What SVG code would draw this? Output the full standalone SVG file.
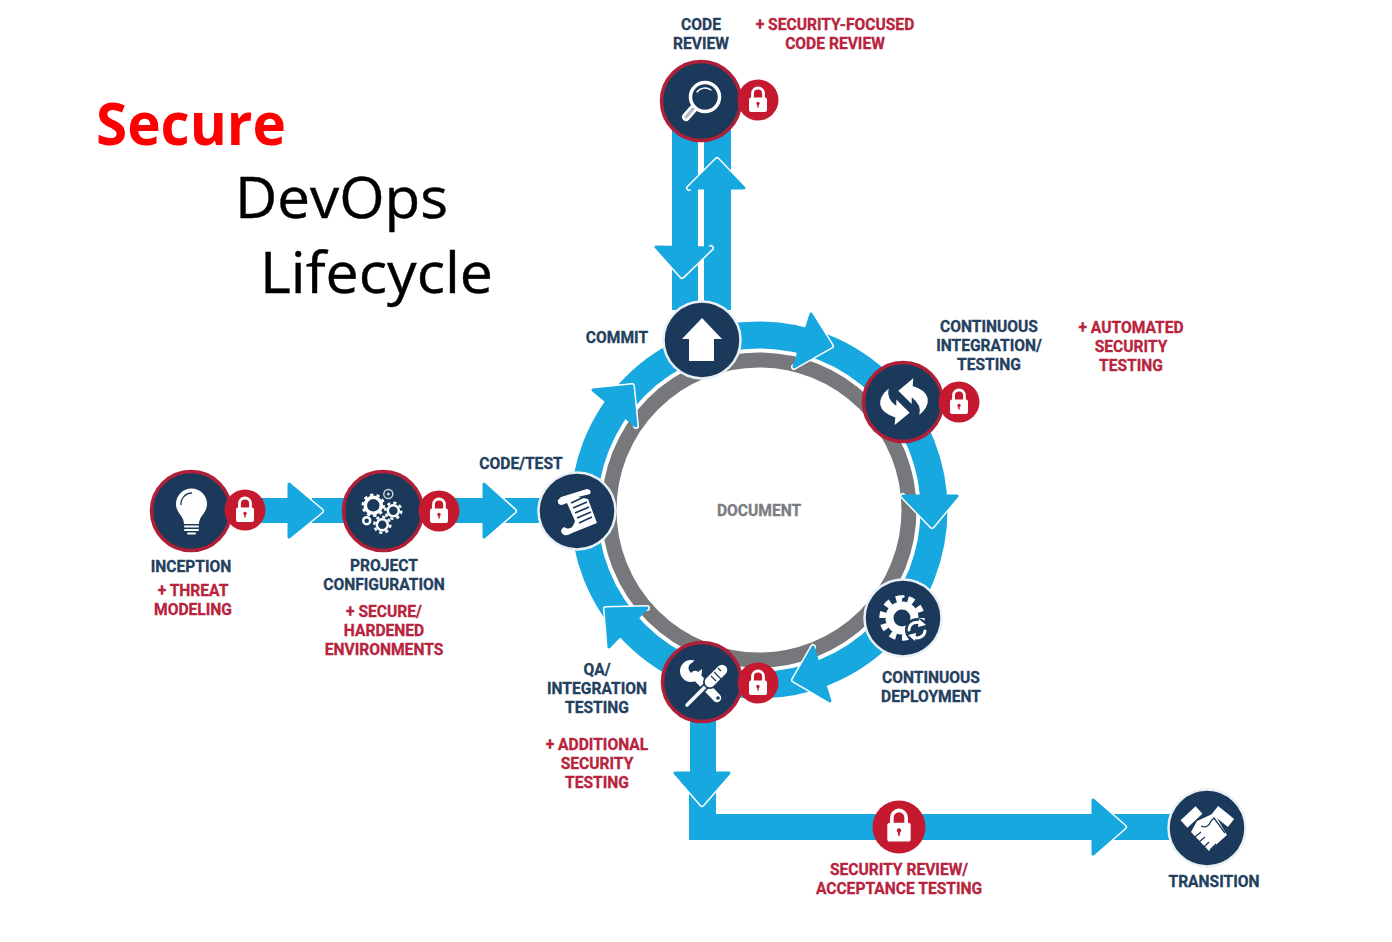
<svg xmlns="http://www.w3.org/2000/svg" xmlns:xlink="http://www.w3.org/1999/xlink" width="1392" height="942" viewBox="0 0 1392 942">
<style>
.lbl{font-family:Roboto,"Liberation Sans",Arial,sans-serif;font-weight:700;font-size:15.6px;text-anchor:middle;stroke-width:.3}
.n{fill:#23405f;stroke:#23405f}.r{fill:#b8233d;stroke:#b8233d}.g{fill:#7b7c7f;stroke:#7b7c7f}
.flow{fill:#16a8df}
.edge{fill:none;stroke:#fff;stroke-width:6;stroke-linejoin:round;stroke-linecap:round}
.head{fill:#16a8df;stroke:#16a8df;stroke-width:3;stroke-linejoin:round}
.disc{fill:#1b3a5b;stroke:#e9f1f6;stroke-width:2.5}
.disc.sec{stroke:#b01f38;stroke-width:3.5}
.lockbg{fill:#c5192f}
.w{fill:#fff}.wl{fill:none;stroke:#fff;stroke-linecap:round}
.nl{fill:none;stroke:#1b3a5b}
.title{font-family:"Open Sans","Noto Sans",sans-serif}
</style>
<defs>
<g id="padlock">
<path d="M-5.5-2V-6.500a5.500 5.500 0 0 1 11 0V-2" fill="none" stroke="#fff" stroke-width="2.800"/>
<rect x="-9" y="-2.500" width="18" height="14.500" rx="2" fill="#fff"/>
<circle cx="0" cy="3.500" r="1.700" fill="#c5192f"/><rect x="-.7" y="3.500" width="1.400" height="4" fill="#c5192f"/>
</g>
</defs>
<rect width="1392" height="942" fill="#fff"/>

<g id="title" class="title">
<text x="96" y="145" font-size="59" font-weight="700" fill="#fe0000" textLength="190" lengthAdjust="spacingAndGlyphs">Secure</text>
<text x="235" y="218" font-size="57" fill="#000" textLength="213" lengthAdjust="spacingAndGlyphs" stroke="#000" stroke-width=".4">DevOps</text>
<text x="260" y="293" font-size="57" fill="#000" textLength="233" lengthAdjust="spacingAndGlyphs" stroke="#000" stroke-width=".4">Lifecycle</text>
</g>

<g id="connectors">
<circle cx="759" cy="510" r="150" fill="none" stroke="#77787b" stroke-width="15"/>
<circle cx="759" cy="510" r="175" fill="none" stroke="#16a8df" stroke-width="27"/>
<rect class="flow" x="672" y="130" width="26" height="180"/>
<rect class="flow" x="704" y="130" width="27" height="180"/>
<path class="edge" d="M689 188L717 160L744 188"/><polygon class="head" points="689,188 717,160 744,188"/>
<path class="edge" d="M656 247L682 276L711 248"/><polygon class="head" points="656,247 682,276 711,248"/>
<rect class="flow" x="250" y="498" width="45" height="25"/>
<rect class="flow" x="312" y="498" width="35" height="25"/>
<path class="edge" d="M289 484L321 511L289 537"/><polygon class="head" points="289,484 321,511 289,537"/>
<rect class="flow" x="445" y="498" width="45" height="25"/>
<rect class="flow" x="505" y="498" width="38" height="25"/>
<path class="edge" d="M484 484L514 511L484 537"/><polygon class="head" points="484,484 514,511 484,537"/>
<path class="edge" d="M811 314L831 346L794 367"/><polygon class="head" points="811,314 831,346 794,367"/>
<path class="edge" d="M903 496L932 526L957 496"/><polygon class="head" points="903,496 932,526 957,496"/>
<path class="edge" d="M813 647L794 680L830 701"/><polygon class="head" points="813,647 794,680 830,701"/>
<path class="edge" d="M647 608L606 609L609 647"/><polygon class="head" points="647,608 606,609 609,647"/>
<path class="edge" d="M593 390L632 386L636 426"/><polygon class="head" points="593,390 632,386 636,426"/>
<rect class="flow" x="690" y="715" width="26" height="60"/>
<polygon class="flow" points="689,790 716,790 716,814 1095,814 1095,840 689,840"/>
<path class="edge" d="M675 773L702 804L729 773"/><polygon class="head" points="675,773 702,804 729,773"/>
<rect class="flow" x="1110" y="814" width="65" height="26"/>
<path class="edge" d="M1093 800L1124 827L1093 854"/><polygon class="head" points="1093,800 1124,827 1093,854"/>
</g>

<g id="node-code-review">
<circle class="disc sec" cx="701" cy="101" r="39.5"/>
<circle class="wl" cx="705" cy="97" r="14.500" stroke-width="3.500"/>
<path class="wl" d="M697 92a10 10 0 0 1 14-2" stroke-width="1.300"/>
<path class="wl" d="M686 117L693 109" stroke-width="8"/>
<path d="M686 117L693 109" stroke="#1b3a5b" stroke-width="3" stroke-linecap="round" opacity=".35"/>
<circle class="lockbg" cx="758" cy="100" r="20.5"/><use xlink:href="#padlock" href="#padlock" x="758" y="100"/>
</g>

<g id="node-commit">
<circle class="disc" cx="702" cy="340" r="38.5"/>
<polygon class="w" points="702,318 722,339 714,339 714,361 689,361 689,339 682,339"/>
</g>

<g id="node-ci">
<circle class="disc sec" cx="903" cy="402" r="39.5"/>
<path class="w" d="M898.3 390.7L913.3 378.3L912.7 386Q926 390 927.7 398.3Q929 407 919.3 415Q922 405 911.7 397.3L911.7 404Z"/>
<path class="w" transform="rotate(180 904 401.7)" d="M898.3 390.7L913.3 378.3L912.7 386Q926 390 927.7 398.3Q929 407 919.3 415Q922 405 911.7 397.3L911.7 404Z"/>
<circle class="lockbg" cx="959" cy="402" r="20.5"/><use xlink:href="#padlock" href="#padlock" x="959" y="402"/>
</g>

<g id="node-cd">
<circle class="disc" cx="903" cy="618" r="38.5"/>
<circle cx="902" cy="618" r="19.5" fill="none" stroke="#fff" stroke-width="6.500" pathLength="20" stroke-dasharray="1 1"/>
<circle cx="902" cy="618" r="12.500" fill="none" stroke="#fff" stroke-width="8"/>
<circle cx="917" cy="630" r="12" fill="#1b3a5b"/>
<path class="wl" d="M909 630a8 8 0 0 1 13-6M925 631a8 8 0 0 1-13 5" stroke-width="3"/>
<polygon class="w" points="919,619 926,625 918,627"/><polygon class="w" points="915,641 908,635 916,633"/>
</g>

<g id="node-qa">
<circle class="disc sec" cx="702" cy="682" r="39.5"/>
<circle class="w" cx="691" cy="671" r="11"/>
<circle cx="694" cy="668" r="5.500" fill="#1b3a5b"/>
<polygon points="691,664 698,657 706,666 698,672" fill="#1b3a5b"/>
<path class="wl" d="M695 675L717 698" stroke-width="8.500"/>
<circle cx="718" cy="698" r="1.800" fill="#1b3a5b"/>
<path d="M709 683L688 704" stroke="#1b3a5b" stroke-width="7"/>
<path class="wl" d="M708 684L687 705" stroke-width="3.500"/>
<path d="M722 670L710 682" stroke="#1b3a5b" stroke-width="14" stroke-linecap="round"/>
<path class="wl" d="M722 670L710 682" stroke-width="10.500"/>
<path class="nl" d="M714 672l7 7M718 668l3 3M711 676l5 5" stroke-width="1.200"/>
<circle class="lockbg" cx="758" cy="683" r="20.5"/><use xlink:href="#padlock" href="#padlock" x="758" y="683"/>
</g>

<g id="node-code-test">
<circle class="disc" cx="577" cy="511" r="38.5"/>
<path class="w" d="M558 500Q557 505 562 505L567 503L575 521Q572 532 564 527Q558 531 564 535Q567 536 572 533L597 523L588 499L578 497L590 494Q592 490 587 489L561 497Z"/>
<path class="nl" d="M571 503L584 497M573 508L587 502M575 513L589 507M577 518L591 512M579 523L592 517" stroke-width="1.800"/>
</g>

<g id="node-inception">
<circle class="disc sec" cx="191" cy="511" r="39.5"/>
<path class="w" d="M184 524C184 516 176 513 176 504A15.500 15.500 0 0 1 207 504C207 513 199 516 199 524Z"/>
<path class="nl" d="M181 505A11 11 0 0 1 192 493" stroke-width="1.300"/>
<path class="wl" d="M185 526.500H198M185 530H198M188 533.500H195" stroke-width="2"/>
<circle class="lockbg" cx="245" cy="510" r="20.5"/><use xlink:href="#padlock" href="#padlock" x="245" y="510"/>
</g>

<g id="node-project">
<circle class="disc sec" cx="383" cy="511" r="39.5"/>
<circle cx="373.300" cy="505.300" r="8" fill="none" stroke="#fff" stroke-width="3.500"/>
<circle cx="373.300" cy="505.300" r="10.500" fill="none" stroke="#fff" stroke-width="2.500" pathLength="20" stroke-dasharray="1 1"/>
<circle cx="393.300" cy="510.700" r="5.500" fill="none" stroke="#fff" stroke-width="2.500"/>
<circle cx="393.300" cy="510.700" r="8" fill="none" stroke="#fff" stroke-width="2.500" pathLength="16" stroke-dasharray="1 1"/>
<circle cx="382.300" cy="524.700" r="5.500" fill="none" stroke="#fff" stroke-width="2.500"/>
<circle cx="382.300" cy="524.700" r="8" fill="none" stroke="#fff" stroke-width="2.500" pathLength="16" stroke-dasharray="1 1"/>
<circle cx="366.700" cy="520.700" r="3.500" fill="none" stroke="#fff" stroke-width="2.500"/>
<circle cx="388.300" cy="494" r="4.500" fill="none" stroke="#c9d3dc" stroke-width="1.500"/>
<circle cx="388.300" cy="494" r="1.500" fill="#c9d3dc"/>
<circle class="lockbg" cx="439" cy="511" r="20.5"/><use xlink:href="#padlock" href="#padlock" x="439" y="511"/>
</g>

<g id="node-security-review">
<circle class="lockbg" cx="899" cy="827" r="26.5"/><use xlink:href="#padlock" href="#padlock" transform="translate(899 826) scale(1.300)"/>
</g>

<g id="node-transition">
<circle class="disc" cx="1207" cy="828" r="38.5"/>
<path d="M1184 824L1199 810M1215 810L1231 823" fill="none" stroke="#fff" stroke-width="10"/>
<path class="w" d="M1197 821L1208 816L1214 813L1227 835L1209 851L1191 832Z"/>
<path class="nl" d="M1201 826Q1208 829 1211 821L1214 818L1225 833M1195 837l6-5M1199 842l6-5M1204 847l5-5M1210 850l6-6" stroke-width="1.300"/>
</g>

<g id="labels">
<text class="lbl n" x="701" y="30">CODE</text>
<text class="lbl n" x="701" y="49">REVIEW</text>
<text class="lbl r" x="835" y="30">+ SECURITY-FOCUSED</text>
<text class="lbl r" x="835" y="49">CODE REVIEW</text>
<text class="lbl n" x="617" y="343">COMMIT</text>
<text class="lbl n" x="989" y="332">CONTINUOUS</text>
<text class="lbl n" x="989" y="351">INTEGRATION/</text>
<text class="lbl n" x="989" y="370">TESTING</text>
<text class="lbl r" x="1131" y="333">+ AUTOMATED</text>
<text class="lbl r" x="1131" y="352">SECURITY</text>
<text class="lbl r" x="1131" y="371">TESTING</text>
<text class="lbl n" x="521" y="469">CODE/TEST</text>
<text class="lbl g" x="759" y="516">DOCUMENT</text>
<text class="lbl n" x="191" y="572">INCEPTION</text>
<text class="lbl r" x="193" y="596">+ THREAT</text>
<text class="lbl r" x="193" y="615">MODELING</text>
<text class="lbl n" x="384" y="571">PROJECT</text>
<text class="lbl n" x="384" y="590">CONFIGURATION</text>
<text class="lbl r" x="384" y="617">+ SECURE/</text>
<text class="lbl r" x="384" y="636">HARDENED</text>
<text class="lbl r" x="384" y="655">ENVIRONMENTS</text>
<text class="lbl n" x="931" y="683">CONTINUOUS</text>
<text class="lbl n" x="931" y="702">DEPLOYMENT</text>
<text class="lbl n" x="597" y="675">QA/</text>
<text class="lbl n" x="597" y="694">INTEGRATION</text>
<text class="lbl n" x="597" y="713">TESTING</text>
<text class="lbl r" x="597" y="750">+ ADDITIONAL</text>
<text class="lbl r" x="597" y="769">SECURITY</text>
<text class="lbl r" x="597" y="788">TESTING</text>
<text class="lbl r" x="899" y="875">SECURITY REVIEW/</text>
<text class="lbl r" x="899" y="894">ACCEPTANCE TESTING</text>
<text class="lbl n" x="1214" y="887">TRANSITION</text>
</g>
</svg>
